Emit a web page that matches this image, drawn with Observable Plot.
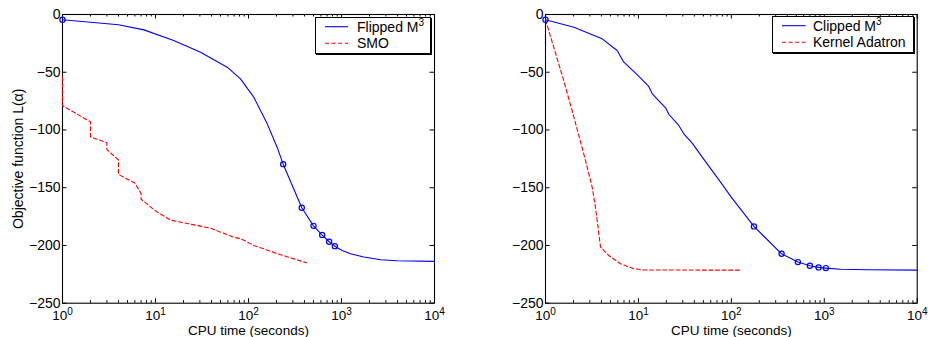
<!DOCTYPE html>
<html><head><meta charset="utf-8">
<script src="https://cdn.jsdelivr.net/npm/d3@7"></script>
<script src="https://cdn.jsdelivr.net/npm/@observablehq/plot@0.6"></script>
<style>
body{margin:0;background:#fff;font-family:"Liberation Sans",Arial,Helvetica,sans-serif;}
#wrap{display:flex;width:928px;height:337px;}
.panel{position:relative;width:464px;height:337px;}
.legend{position:absolute;box-sizing:border-box;background:#fff;border:1px solid #000;box-shadow:1px 1px 0 #000;}
.legend svg{position:absolute;left:-1px;top:-1px;overflow:visible;}
</style>
</head><body>
<div id="wrap"><div class="panel" id="p1"></div><div class="panel" id="p2"></div></div>
<script>
// ---- data (CPU time in seconds, objective value) ----
const flippedT = [1, 4, 7.5, 15.7, 30.5, 59, 82, 114, 159, 203, 236, 374, 500, 620, 737, 848, 1016, 1250, 1738, 2630, 3970, 10000];
const flippedV = [-4.6, -8.9, -13.3, -22.5, -32.6, -45.6, -55.7, -71.6, -94.7, -114.9, -129.6, -167.4, -183, -191, -196.8, -200.6, -204.3, -207.2, -210, -212.4, -213.3, -213.8];
const flippedMarkT = [1, 236, 374, 500, 620, 737, 848];
const flippedMarkV = [-4.6, -129.6, -167.4, -183, -191, -196.8, -200.6];
const smoT = [1, 1, 2, 2, 3, 3, 4, 4, 6, 7, 7, 10, 14.5, 22, 39, 70, 82, 114, 203, 421];
const smoV = [-54, -79, -93, -106, -111, -117, -126, -138.5, -146, -155, -160, -170, -178, -181, -185, -193, -194, -200, -207, -215];

const clippedT = [1, 2.02, 4.07, 5.9, 6.97, 9.87, 12.9, 14.1, 19.6, 21.3, 27.2, 30.8, 37.9, 48.6, 76.5, 99.7, 175, 347, 520, 700, 868, 1040, 1500, 3000, 10000];
const clippedV = [-4.6, -11, -21.1, -31.2, -41.3, -52.8, -62.3, -68.7, -80.8, -86.6, -96.1, -103.3, -111.4, -123.5, -145.2, -158.2, -183.5, -207.2, -214.4, -217.6, -219, -219.6, -220.6, -221, -221.4];
const clippedMarkT = [1, 175, 347, 520, 700, 868, 1040];
const clippedMarkV = [-4.6, -183.5, -207.2, -214.4, -217.6, -219, -219.6];
const adatronT = [1, 1.57, 2.02, 2.58, 3.18, 3.45, 3.91, 4.8, 6.4, 8.9, 11.4, 125.6];
const adatronV = [-4.6, -57.1, -88.9, -120.6, -149.5, -166.8, -201.4, -208.7, -215.8, -220.1, -221.2, -221.4];

const majorX = [1, 10, 100, 1000, 10000];
const minorX = [2,3,4,5,6,7,8,9, 20,30,40,50,60,70,80,90, 200,300,400,500,600,700,800,900, 2000,3000,4000,5000,6000,7000,8000,9000];
const yTicks = [-250, -200, -150, -100, -50, 0];
const xLabel = "CPU time (seconds)";
const yLabel = "Objective function L(α)";

const W = 464, H = 337, TOP = 14, BOTTOM = 34.3;
const innerH = H - TOP - BOTTOM;
const BLUE = "#0000ff", RED = "#ff0000";
const zipRows = (t, v) => t.map((x, i) => ({t: x, v: v[i]}));

function makePanel({marginLeft, marginRight, blue, blueMarks, red, withYLabel}) {
  const innerW = W - marginLeft - marginRight;
  const marks = [
    Plot.frame({stroke: "#000", strokeWidth: 1.1}),
    Plot.tickX(majorX, {x: d => d, insetTop: innerH - 4.5, stroke: "#000"}),
    Plot.tickX(majorX, {x: d => d, insetBottom: innerH - 4.5, stroke: "#000"}),
    Plot.tickX(minorX, {x: d => d, insetTop: innerH - 2.5, stroke: "#000"}),
    Plot.tickX(minorX, {x: d => d, insetBottom: innerH - 2.5, stroke: "#000"}),
    Plot.tickY(yTicks, {y: d => d, insetRight: innerW - 4.5, stroke: "#000"}),
    Plot.tickY(yTicks, {y: d => d, insetLeft: innerW - 4.5, stroke: "#000"}),
    Plot.axisX(majorX, {tickSize: 0, tickPadding: 7.5, label: null, fontSize: 13.5,
      tickFormat: d => "10^" + Math.round(Math.log10(d))}),
    Plot.axisY(yTicks, {tickSize: 0, tickPadding: 2, label: null, fontSize: 14,
      tickFormat: d => d < 0 ? "\u2212" + (-d) : String(d)}),
    Plot.text([xLabel], {text: d => d, frameAnchor: "bottom", lineAnchor: "middle", textAnchor: "middle", dy: 27.3, fontSize: 13.5}),
    Plot.line(red, {x: "t", y: "v", stroke: RED, strokeWidth: 1.1, strokeDasharray: "4,2.6"}),
    Plot.line(blue, {x: "t", y: "v", stroke: BLUE, strokeWidth: 1.1}),
    Plot.dot(blueMarks, {x: "t", y: "v", r: 2.6, stroke: BLUE, fill: "none", strokeWidth: 1.2})
  ];
  if (withYLabel) marks.push(Plot.text([yLabel], {text: d => d, frameAnchor: "left", textAnchor: "middle", lineAnchor: "middle", dx: -44, rotate: -90, fontSize: 14}));
  const svg = Plot.plot({
    width: W, height: H, marginLeft, marginRight, marginTop: TOP, marginBottom: BOTTOM,
    style: {fontFamily: '"Liberation Sans", Arial, Helvetica, sans-serif', fontSize: "14px", background: "#fff", color: "#000", overflow: "visible"},
    x: {type: "log", domain: [1, 10000], label: null},
    y: {domain: [-250, 0], label: null},
    marks
  });
  svg.querySelectorAll('g[aria-label="x-axis tick label"] text').forEach(t => {
    const [b, e] = t.textContent.split("^");
    t.textContent = b;
    const ts = document.createElementNS("http://www.w3.org/2000/svg", "tspan");
    ts.setAttribute("dy", "-5");
    ts.setAttribute("font-size", "10");
    ts.textContent = e;
    t.appendChild(ts);
  });
  return svg;
}

function makeLegend(el, {left, top, width, height, lineX1, lineX2, textX, items}) {
  const div = document.createElement("div");
  div.className = "legend";
  Object.assign(div.style, {left: left + "px", top: top + "px", width: width + "px", height: height + "px"});
  const ns = "http://www.w3.org/2000/svg";
  const svg = document.createElementNS(ns, "svg");
  svg.setAttribute("width", width); svg.setAttribute("height", height);
  items.forEach((it, i) => {
    const y = 9.7 + i * 16.6;
    const ln = document.createElementNS(ns, "line");
    ln.setAttribute("x1", lineX1); ln.setAttribute("x2", lineX2);
    ln.setAttribute("y1", y); ln.setAttribute("y2", y);
    ln.setAttribute("stroke", it.color); ln.setAttribute("stroke-width", 1.1);
    if (it.dash) ln.setAttribute("stroke-dasharray", "4,2.6");
    svg.appendChild(ln);
    const tx = document.createElementNS(ns, "text");
    tx.setAttribute("x", textX); tx.setAttribute("y", y + 5);
    tx.setAttribute("font-size", 14);
    tx.setAttribute("font-family", '"Liberation Sans", Arial, Helvetica, sans-serif');
    tx.textContent = it.label;
    if (it.sup) {
      const ts = document.createElementNS(ns, "tspan");
      ts.setAttribute("dy", "-6"); ts.setAttribute("font-size", "10");
      ts.textContent = it.sup;
      tx.appendChild(ts);
    }
    svg.appendChild(tx);
  });
  div.appendChild(svg);
  el.appendChild(div);
}

const p1 = document.getElementById("p1"), p2 = document.getElementById("p2");
p1.appendChild(makePanel({marginLeft: 62, marginRight: 30,
  blue: zipRows(flippedT, flippedV), blueMarks: zipRows(flippedMarkT, flippedMarkV),
  red: zipRows(smoT, smoV), withYLabel: true}));
p2.appendChild(makePanel({marginLeft: 81, marginRight: 11.3,
  blue: zipRows(clippedT, clippedV), blueMarks: zipRows(clippedMarkT, clippedMarkV),
  red: zipRows(adatronT, adatronV), withYLabel: false}));

makeLegend(p1, {left: 315, top: 17, width: 116, height: 37, lineX1: 10, lineX2: 33, textX: 42,
  items: [{label: "Flipped M", sup: "3", color: BLUE}, {label: "SMO", color: RED, dash: true}]});
makeLegend(p2, {left: 308, top: 16, width: 142, height: 37, lineX1: 10, lineX2: 33.7, textX: 41,
  items: [{label: "Clipped M", sup: "3", color: BLUE}, {label: "Kernel Adatron", color: RED, dash: true}]});
</script>
</body></html>
